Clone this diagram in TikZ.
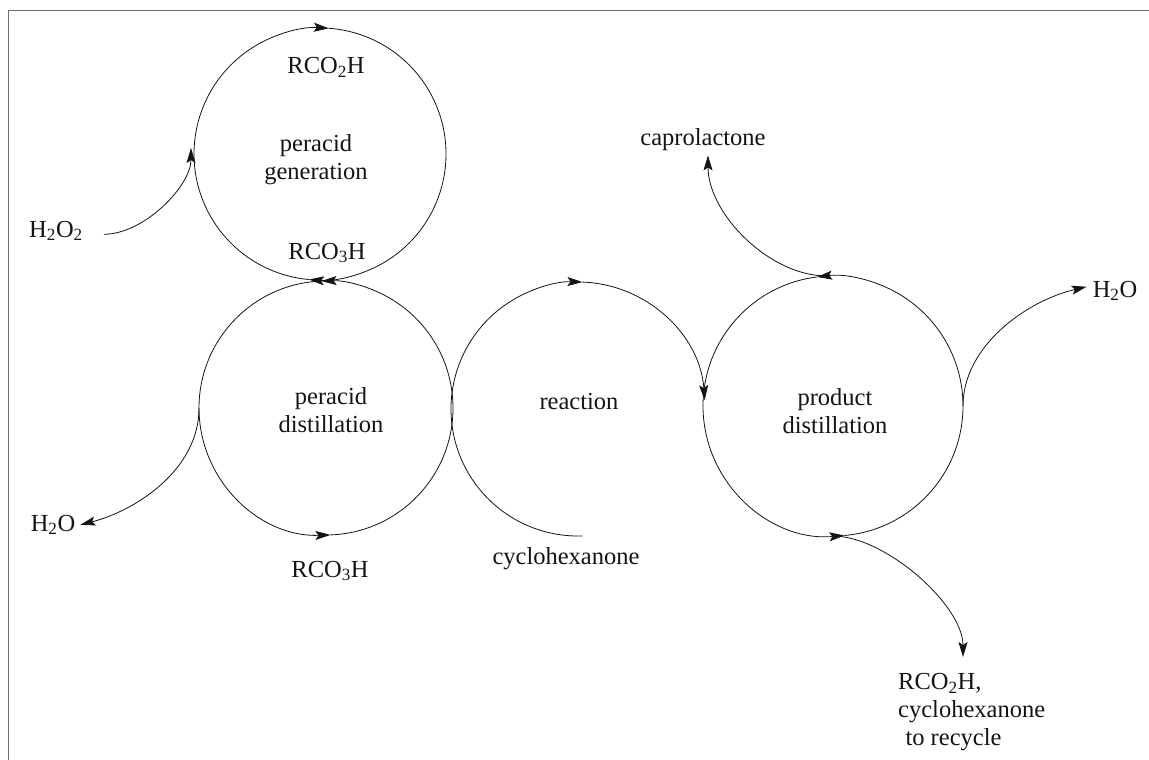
\documentclass[tikz,border=0pt]{standalone}
\usepackage{fontspec}
\setmainfont{Liberation Serif}
\usetikzlibrary{arrows.meta}
\definecolor{framegray}{RGB}{110,110,110}
\definecolor{ink}{RGB}{20,20,20}
\tikzset{
  flow/.style={draw=ink, line width=0.8pt, -{Stealth[length=15pt,width=9pt,inset=3pt]}},
  plain/.style={draw=ink, line width=0.8pt},
  unit/.style={circle, inner sep=0pt, outer sep=0pt, draw=none},
  lab/.style={inner sep=2pt, text=ink, font=\fontsize{24.5pt}{28pt}\selectfont, align=center},
}
\begin{document}
\begin{tikzpicture}[x=1pt,y=-1pt]
\useasboundingbox (0,0) rectangle (1149,760);
% frame
\draw[framegray, line width=1.6pt] (8.5,760) -- (8.5,10.5) -- (1149,10.5);

% units (circles)
\node[unit, minimum size=252pt] (c1) at (320,154) {};
\node[unit, minimum size=254pt] (c2) at (326,408) {};
\node[unit, minimum size=254pt] (c3) at (578,409) {};
\node[unit, minimum size=260pt] (c4) at (833,406) {};

% labels
\node[lab] (g) at (316,160) {peracid\\generation};
\node[lab] (d) at (331,410) {peracid\\distillation};
\node[lab, anchor=base] (r) at (579,409) {reaction};
\node[lab] (p) at (835,411) {product\\distillation};

\node[lab, anchor=base] (acid1) at (326,74) {RCO\textsubscript{2}H};
\node[lab, anchor=base] (per1) at (327,259) {RCO\textsubscript{3}H};
\node[lab, anchor=base] (per2) at (330,577) {RCO\textsubscript{3}H};
\node[lab, anchor=base] (h2o2) at (56,237) {H\textsubscript{2}O\textsubscript{2}};
\node[lab, anchor=base] (h2oL) at (53,531) {H\textsubscript{2}O};
\node[lab, anchor=base] (h2oR) at (1115,297) {H\textsubscript{2}O};
\node[lab, anchor=base] (capro) at (703,145) {caprolactone};
\node[lab, anchor=base] (cyc) at (566,564) {cyclohexanone};
\node[lab, anchor=north west, align=left] (recycle) at (896,671.5)
  {RCO\textsubscript{2}H,\\cyclohexanone\\\hspace*{0.3em}to recycle};

% peracid generation (clockwise)
\draw[flow] (c1.180) arc[start angle=180, end angle=86, radius=126pt];
\draw[flow] (c1.86) arc[start angle=86, end angle=-95, radius=126pt];
\draw[plain] (c1.265) arc[start angle=265, end angle=180, radius=126pt];

% peracid distillation (counter-clockwise)
\draw[flow] (c2.0) arc[start angle=0, end angle=92, radius=127pt];
\draw[flow] (c2.92) arc[start angle=92, end angle=272, radius=127pt];
\draw[plain] (c2.272) arc[start angle=272, end angle=360, radius=127pt];

% reaction (clockwise, open at bottom)
\draw[flow] (c3.272) arc[start angle=272, end angle=88, radius=127pt];
\draw[flow] (c3.88) arc[start angle=88, end angle=4, radius=127pt];

% product distillation (counter-clockwise)
\draw[flow] (c4.0) arc[start angle=0, end angle=97, radius=130pt];
\draw[flow] (c4.97) arc[start angle=97, end angle=275, radius=130pt];
\draw[plain] (c4.275) arc[start angle=275, end angle=360, radius=130pt];

% feeds and outlets
\draw[flow] ([shift={(19,3.5)}]h2o2.east) .. controls +(40,0) and +(0,38) .. ([shift={(-3,-6)}]c1.west);
\draw[flow] (c2.west) .. controls +(0,62) and +(55,-14) .. ([xshift=3pt]h2oL.east);
\draw[flow] ([xshift=-6pt]c4.north) .. controls +(-58,0) and +(0,58) .. ([shift={(5,3)}]capro.south);
\draw[flow] (c4.east) .. controls +(0,-60) and +(-60,14) .. ([shift={(-4,-4)}]h2oR.west);
\draw[flow] (c4.south) .. controls +(52,0) and +(0,-52) .. ([shift={(67,-14.5)}]recycle.north west);
\end{tikzpicture}
\end{document}
